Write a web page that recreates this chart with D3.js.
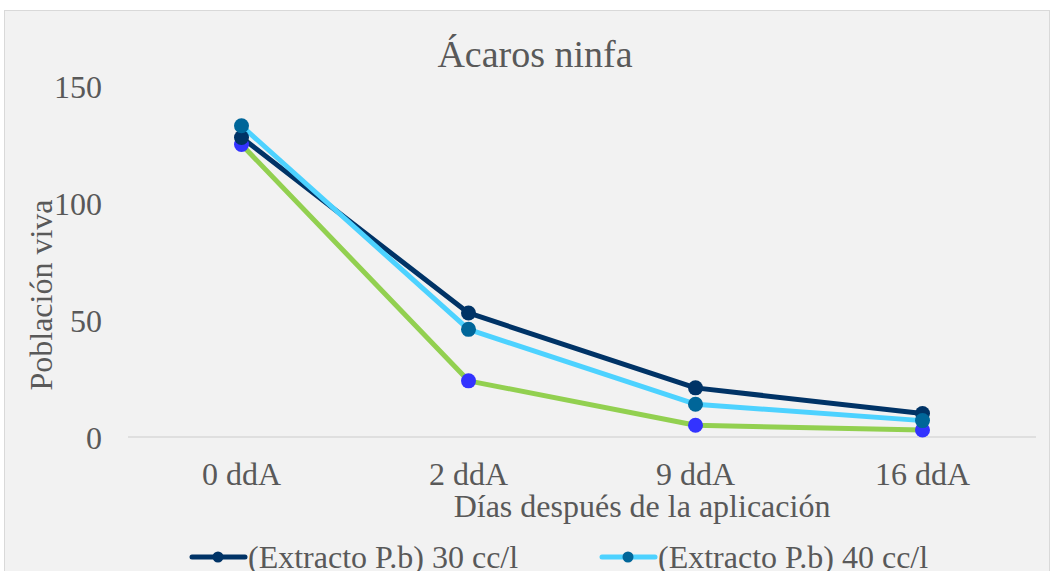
<!DOCTYPE html>
<html><head><meta charset="utf-8">
<script src="https://cdn.jsdelivr.net/npm/d3@7/dist/d3.min.js"></script>
<style>body{margin:0;background:#fff;}svg{display:block;font-family:"Liberation Serif","Times New Roman",serif;}</style>
</head><body><svg id="c" width="1054" height="571"></svg>
<script>
const categories = ["0 ddA","2 ddA","9 ddA","16 ddA"];
const yTicks = [0,50,100,150];
const seriesNames = ["(Extracto P.b) 30 cc/l","(Extracto P.b) 40 cc/l"];
const s30 = [128,53,21,10];
const s40 = [133,46,14,7];
const s50 = [125,24,5,3];
const lineColors = ["#003366","#4dd2ff","#92d050"];
const markerColors = ["#003366","#006699","#3333ff"];

const svg = d3.select("#c");
svg.append("rect").attr("x",4.5).attr("y",10.5).attr("width",1045).attr("height",600)
  .attr("fill","#f2f2f2").attr("stroke","#d9d9d9");

const x = d3.scaleBand().domain(categories).range([128,1036]);
const y = d3.scaleLinear().domain([0,150]).range([437,86]);
const txt = "#595959";

svg.append("text").attr("x",535).attr("y",67).attr("text-anchor","middle")
  .attr("font-size",38).attr("fill",txt).text("Ácaros ninfa");

svg.append("line").attr("x1",128).attr("x2",1036).attr("y1",y(0)).attr("y2",y(0))
  .attr("stroke","#d9d9d9").attr("stroke-width",1.5);

const ya = d3.axisLeft(y).tickValues(yTicks).tickSize(0).tickPadding(0);
const gy = svg.append("g").attr("transform","translate(102,0)").call(ya);
gy.select(".domain").remove();
gy.selectAll("text").attr("font-size",32).attr("fill",txt).attr("font-family","Liberation Serif").attr("dy","0.35em");

const xa = d3.axisBottom(x).tickSize(0).tickPadding(0);
const gx = svg.append("g").attr("transform","translate(0,485)").call(xa);
gx.select(".domain").remove();
gx.selectAll("text").attr("font-size",32).attr("fill",txt).attr("font-family","Liberation Serif").attr("dy",0);

svg.append("text").attr("x",642).attr("y",517).attr("text-anchor","middle")
  .attr("font-size",32).attr("fill",txt).text("Días después de la aplicación");
svg.append("text").attr("transform","translate(52,295) rotate(-90)").attr("text-anchor","middle")
  .attr("font-size",32).attr("fill",txt).text("Población viva");

const data = [s30,s40,s50];
const cx = c => x(c) + x.bandwidth()/2;
const line = d3.line().x((d,i)=>cx(categories[i])).y(d=>y(d));
const order = [2,0,1];
order.forEach(k=>{
  svg.append("path").datum(data[k]).attr("d",line).attr("fill","none")
    .attr("stroke",lineColors[k]).attr("stroke-width",5).attr("stroke-linejoin","round").attr("stroke-linecap","round");
});
order.forEach(k=>{
  svg.append("g").selectAll("circle").data(data[k]).join("circle")
    .attr("cx",(d,i)=>cx(categories[i])).attr("cy",d=>y(d)).attr("r",7.5)
    .attr("fill",markerColors[k]);
});

const legX = [190,600];
seriesNames.forEach((n,k)=>{
  const g = svg.append("g").attr("transform",`translate(${legX[k]},557)`);
  g.append("line").attr("x1",2).attr("x2",55).attr("y1",0).attr("y2",0)
    .attr("stroke",lineColors[k]).attr("stroke-width",5).attr("stroke-linecap","round");
  g.append("circle").attr("cx",28).attr("cy",0).attr("r",5.5).attr("fill",markerColors[k]);
  g.append("text").attr("x",58).attr("y",11).attr("font-size",32).attr("fill",txt).text(n);
});
</script></body></html>
